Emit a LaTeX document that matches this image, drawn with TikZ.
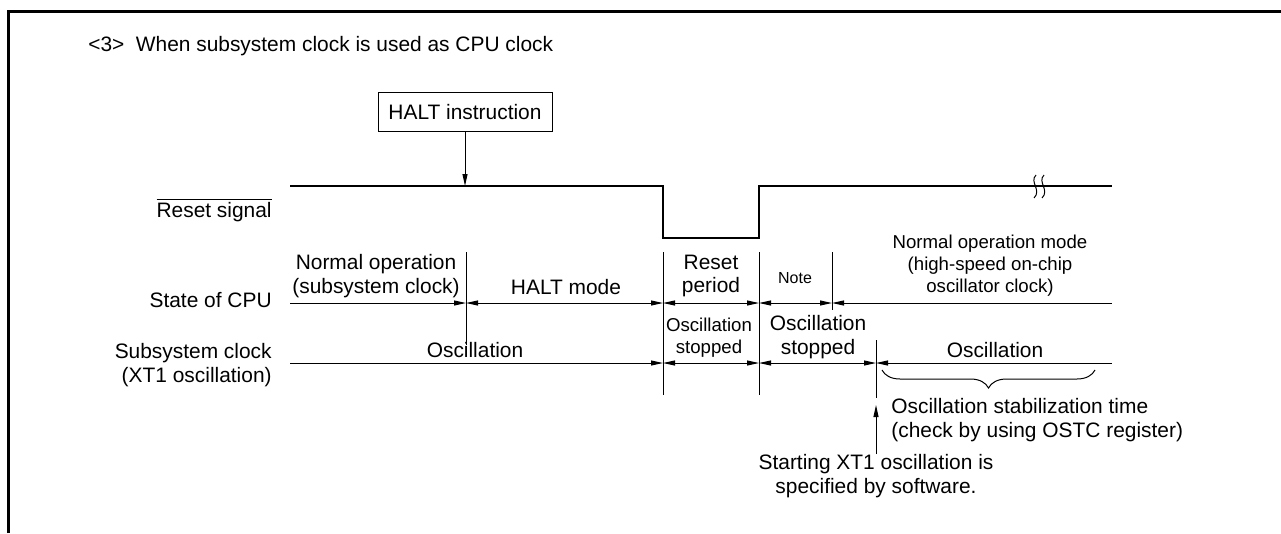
\documentclass[tikz,border=0pt]{standalone}
\usepackage{fontspec}
\setmainfont{Liberation Sans}
\usetikzlibrary{arrows.meta,decorations.pathreplacing}

\begin{document}
\begin{tikzpicture}[
    x=0.2mm, y=-0.2mm,
    >={Triangle[length=2.4mm,width=1mm]},
    txt/.style={inner sep=0pt, align=center, font=\fontsize{11.9}{13.5}\selectfont},
    smalltxt/.style={inner sep=0pt, align=center, font=\fontsize{10.6}{12.5}\selectfont},
    notetxt/.style={inner sep=0pt, font=\fontsize{9.1}{11}\selectfont},
    signal/.style={line width=0.4mm},
    dimline/.style={line width=0.2mm},
    guide/.style={line width=0.2mm}
]

\useasboundingbox (0,0) rectangle (1281,533);
\draw[line width=0.6mm] (8,533) -- (8,11) -- (1281,11);

\node[txt, anchor=base west] (title) at (88,51) {<3>\hspace{0.55em}When subsystem clock is used as CPU clock};

\node[txt, draw, line width=0.2mm, minimum width=34.8mm, minimum height=7.8mm] (halt) at (465,112) {HALT instruction};
\coordinate (haltin) at (465,186);
\draw[->, dimline] (halt) -- (haltin);

\draw[signal] (290,186) -- (663,186) -- (663,238) -- (759,238) -- (759,186) -- (1112,186);
\draw[dimline] (1036,175) .. controls (1029,182) and (1042,190) .. (1034,198);
\draw[dimline] (1044,175) .. controls (1037,182) and (1050,190) .. (1042,198);

\node[txt, anchor=east] (rst) at (272,210) {$\overline{\mbox{Reset signal}}$};
\node[txt, anchor=east] (cpu) at (272,300) {State of CPU};
\node[txt, anchor=east, align=right] (sub) at (272,365) {Subsystem clock\\(XT1 oscillation)};

\draw[guide] (466,252) -- (466,345);
\draw[guide] (663,252) -- (663,395);
\draw[guide] (759,252) -- (759,395);
\draw[guide] (832,252) -- (832,310);
\draw[guide] (876,340) -- (876,398);

\coordinate (c0) at (290,303);
\coordinate (c1) at (466,303);
\coordinate (c2) at (663,303);
\coordinate (c3) at (759,303);
\coordinate (c4) at (832,303);
\coordinate (c5) at (1112,303);
\draw[dimline, ->] (c0) -- (c1);
\draw[dimline, <->] (c1) -- (c2);
\draw[dimline, <->] (c2) -- (c3);
\draw[dimline, <->] (c3) -- (c4);
\draw[dimline, <-] (c4) -- (c5);

\coordinate (d0) at (290,363);
\coordinate (d2) at (663,363);
\coordinate (d3) at (759,363);
\coordinate (d4) at (876,363);
\coordinate (d5) at (1112,363);
\draw[dimline, ->] (d0) -- (d2);
\draw[dimline, <->] (d2) -- (d3);
\draw[dimline, <->] (d3) -- (d4);
\draw[dimline, <-] (d4) -- (d5);

\node[txt] (normal) at (376,276) {Normal operation\\(subsystem clock)};
\node[txt] (haltmode) at (566,287) {HALT mode};
\node[txt] (resetper) at (711,276) {Reset\\period};
\node[notetxt] (note) at (795,278) {Note};
\node[smalltxt] (normalhs) at (990,266) {Normal operation mode\\(high-speed on-chip\\oscillator clock)};

\node[txt] (osc1) at (475,350) {Oscillation};
\node[smalltxt] (stop1) at (709,338) {Oscillation\\stopped};
\node[txt] (stop2) at (818,337) {Oscillation\\stopped};
\node[txt] (osc2) at (995,350) {Oscillation};

\draw[dimline, decorate, decoration={brace, mirror, amplitude=3.6mm}] (882,370) -- (1095,370);
\node[txt, anchor=west, align=left] (stab) at (891,420) {Oscillation stabilization time\\(check by using OSTC register)};

\node[txt] (sw) at (876,476) {Starting XT1 oscillation is\\specified by software.};
\coordinate (oscon) at (876,405);
\draw[->, dimline] (sw) -- (oscon);

\end{tikzpicture}
\end{document}
